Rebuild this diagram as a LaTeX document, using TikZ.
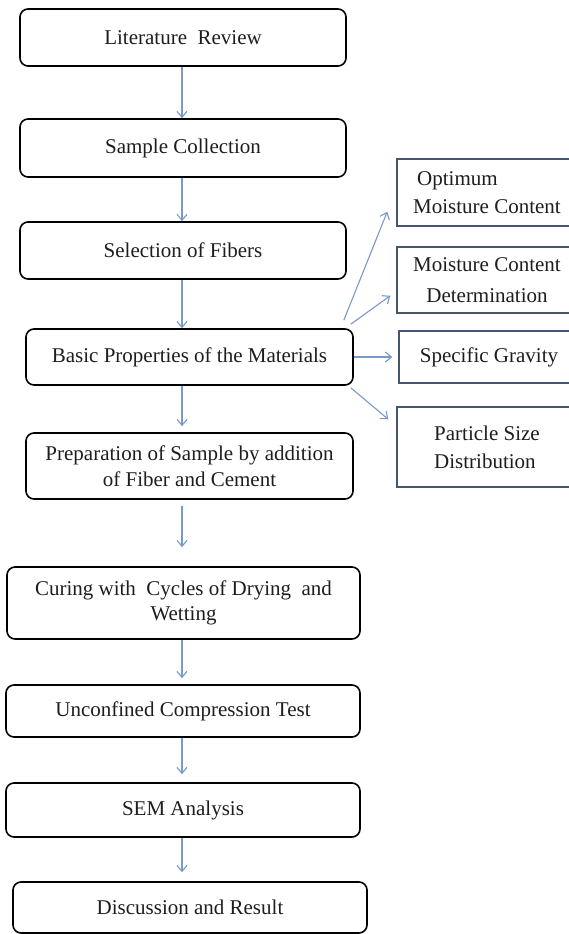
\documentclass[tikz,border=0pt]{standalone}
\usepackage{fontspec}
\setmainfont{Liberation Serif}
\usetikzlibrary{arrows.meta,calc}
\definecolor{arr}{RGB}{122,152,200}
\definecolor{sbox}{RGB}{70,85,112}
\definecolor{txt}{RGB}{30,30,30}
\begin{document}
\begin{tikzpicture}[x=1pt,y=-1pt,
  mbox/.style={draw=black, line width=1.6pt, rounded corners=8pt, align=center, inner sep=0pt, text=txt, font=\fontsize{21}{26}\selectfont},
  sbx/.style={draw=sbox, line width=1.5pt, inner sep=0pt, text=txt, minimum width=180pt, font=\fontsize{21}{28}\selectfont},
  arw/.style={draw=arr, line width=1.1pt, -{Straight Barb[length=6pt,width=10pt]}}]
\clip (0,0) rectangle (569,934);
\fill[white] (0,0) rectangle (569,934);
% main column
\node[mbox, minimum width=326pt, minimum height=57pt] (lit) at (183,37.5) {Literature\ \ Review};
\node[mbox, minimum width=326pt, minimum height=58pt] (sample) at (183,148) {Sample Collection};
\node[mbox, minimum width=326pt, minimum height=57pt] (select) at (183,250.5) {Selection of Fibers};
\node[mbox, minimum width=327pt, minimum height=56pt] (basic) at (189.5,357) {Basic Properties of the Materials};
\node[mbox, minimum width=327pt, minimum height=66pt] (prep) at (189.5,466) {Preparation of Sample by addition\\of Fiber and Cement};
\node[mbox, minimum width=353pt, minimum height=72pt, font=\fontsize{21}{25}\selectfont] (curing) at (183.5,603) {Curing with\ \ Cycles of Drying\ \ and\\Wetting};
\node[mbox, minimum width=354pt, minimum height=52pt] (ucs) at (183,711) {Unconfined Compression Test};
\node[mbox, minimum width=354pt, minimum height=54pt] (sem) at (183,810) {SEM Analysis};
\node[mbox, minimum width=354pt, minimum height=51pt] (disc) at (190,907.5) {Discussion and Result};
% side boxes
\node[sbx, minimum height=67pt, align=left] (opt) at (487,192.5) {\hspace*{4pt}Optimum\\Moisture Content};
\node[sbx, minimum height=66pt, align=center, font=\fontsize{21}{31}\selectfont] (mcd) at (487,280) {Moisture Content\\Determination};
\node[sbx, minimum height=52pt] (sg) at (489,357) {Specific Gravity};
\node[sbx, minimum height=80pt, align=left] (psd) at (487,447) {Particle Size\\Distribution};
% vertical arrows
\coordinate (ax) at (182,0);
\draw[arw] (lit.south -| ax) -- (sample.north -| ax);
\draw[arw] (sample.south -| ax) -- (select.north -| ax);
\draw[arw] (select.south -| ax) -- (basic.north -| ax);
\draw[arw, shorten >=6pt] (basic.south -| ax) -- (prep.north -| ax);
\draw[arw, shorten <=6pt, shorten >=19pt] (prep.south -| ax) -- (curing.north -| ax);
\draw[arw, shorten >=6pt] (curing.south -| ax) -- (ucs.north -| ax);
\draw[arw, shorten >=8pt] (ucs.south -| ax) -- (sem.north -| ax);
\draw[arw, shorten >=9pt] (sem.south -| ax) -- (disc.north -| ax);
% side arrows
\draw[arw] ($(basic.north east)+(-10,-8)$) -- ($(opt.south west)+(-9,-15)$);
\draw[arw] ($(basic.north east)+(-3,-4)$) -- ($(mcd.south west)+(-6,-18)$);
\draw[arw, shorten >=6pt] (basic.east) -- (sg.west);
\draw[arw] ($(basic.south east)+(-3,2)$) -- ($(psd.north west)+(-8,13)$);
\end{tikzpicture}
\end{document}
